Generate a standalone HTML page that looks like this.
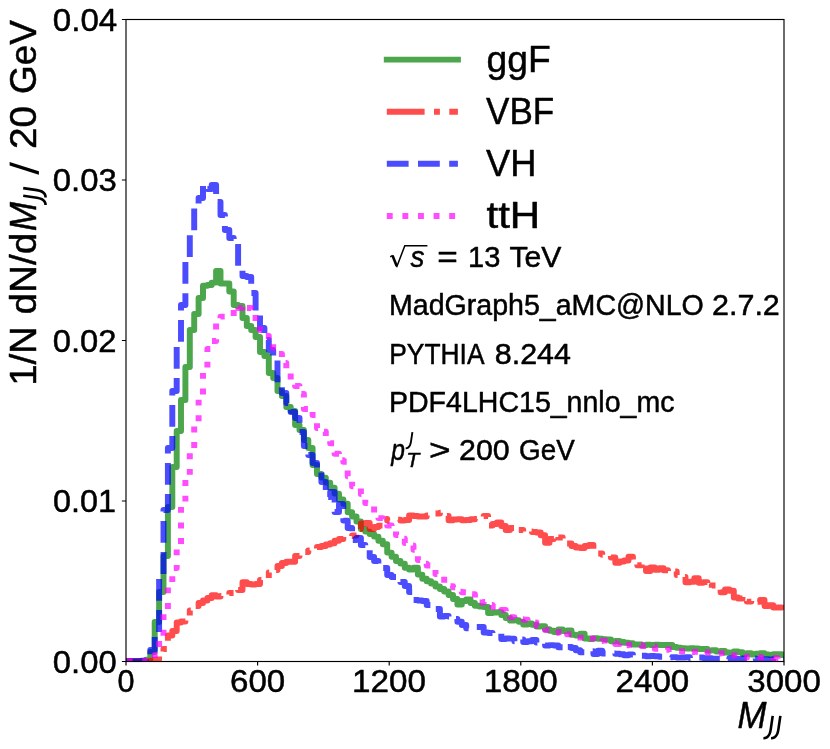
<!DOCTYPE html>
<html>
<head>
<meta charset="utf-8">
<title>MJJ distribution</title>
<style>
html,body{margin:0;padding:0;background:#fff;}
body{width:830px;height:749px;overflow:hidden;font-family:"Liberation Sans",sans-serif;}
svg{display:block;}
</style>
</head>
<body>
<svg width="830" height="749" viewBox="0 0 830 749">
<rect x="0" y="0" width="830" height="749" fill="#ffffff"/>
<defs><clipPath id="ax"><rect x="126.00" y="19.50" width="658.00" height="642.00"/></clipPath></defs>
<g clip-path="url(#ax)" fill="none" stroke-width="5.95" stroke-linejoin="round" stroke-opacity="0.7">
<path d="M126.0 661.2H132.8V661.2H137.2V661.1H141.6V660.9H145.9V659.6H150.3V652.0H154.7V622.0H159.1V592.0H163.5V556.0H167.9V507.0H172.3V467.0H176.7V431.0H181.0V400.0H185.4V367.0H189.8V330.0H194.2V314.0H198.6V298.0H203.0V285.8H207.4V285.0H211.7V282.6H216.1V271.0H220.5V283.5H224.9V283.5H229.3V291.5H233.7V305.0H238.1V306.0H242.5V318.0H246.8V326.0H251.2V330.0H255.6V337.0H260.0V352.0H264.4V356.0H268.8V373.0H273.2V378.0H277.5V391.0H281.9V396.0H286.3V407.0H290.7V411.0H295.1V425.0H299.5V430.0H303.9V440.0H308.3V448.0H312.6V465.0H317.0V474.0H321.4V477.6H325.8V482.6H330.2V487.7H334.6V493.6H339.0V499.5H343.3V503.7H347.7V512.2H352.1V516.4H356.5V521.4H360.9V529.0H365.3V531.6H369.7V534.0H374.1V536.6H378.4V540.8H382.8V544.2H387.2V552.6H391.6V556.8H396.0V561.0H400.4V563.6H404.8V567.8H409.1V569.5H413.5V567.8H417.9V574.6H422.3V578.8H426.7V581.3H431.1V583.5H435.5V586.5H439.9V589.0H444.2V591.5H448.6V595.0H453.0V599.0H457.4V604.5H461.8V601.0H466.2V599.4H470.6V603.0H474.9V605.8H479.3V606.5H483.7V607.0H488.1V613.0H492.5V612.5H496.9V612.2H501.3V615.0H505.7V618.0H510.0V620.5H514.4V620.1H518.8V621.7H523.2V624.4H527.6V623.5H532.0V624.8H536.4V626.6H540.7V626.3H545.1V629.2H549.5V630.7H553.9V631.9H558.3V629.4H562.7V630.9H567.1V630.5H571.5V634.8H575.8V635.4H580.2V633.6H584.6V638.5H589.0V639.0H593.4V638.3H597.8V638.7H602.2V639.1H606.5V639.5H610.9V641.2H615.3V640.9H619.7V641.9H624.1V642.8H628.5V643.2H632.9V644.5H637.3V644.5H641.6V645.3H646.0V644.6H650.4V644.9H654.8V644.6H659.2V644.9H663.6V644.9H668.0V645.0H672.3V646.9H676.7V647.7H681.1V648.1H685.5V648.5H689.9V648.2H694.3V648.4H698.7V649.0H703.1V648.9H707.4V650.6H711.8V650.1H716.2V651.4H720.6V650.9H725.0V652.5H729.4V652.7H733.8V651.4H738.1V652.1H742.5V653.9H746.9V653.3H751.3V654.6H755.7V653.6H760.1V653.1H764.5V654.4H768.9V655.0H773.2V654.2H777.6V654.1H782.0V654.9H786.4V656.4H790.8" stroke="#008000" stroke-linecap="square"/>
<path d="M126.0 661.3H132.8V661.3H137.2V661.3H141.6V661.3H145.9V661.2H150.3V660.8H154.7V659.6H159.1V655.5H163.5V649.0H167.9V635.5H172.3V631.0H176.7V622.4H181.0V621.5H185.4V619.0H189.8V610.5H194.2V606.0H198.6V603.0H203.0V600.5H207.4V598.0H211.7V595.3H216.1V596.4H220.5V596.0H224.9V595.3H229.3V593.0H233.7V589.0H238.1V590.0H242.5V582.3H246.8V584.0H251.2V584.5H255.6V584.0H260.0V580.0H264.4V578.0H268.8V572.5H273.2V570.0H277.5V566.0H281.9V563.0H286.3V561.7H290.7V561.7H295.1V556.0H299.5V554.0H303.9V552.0H308.3V550.5H312.6V548.5H317.0V547.0H321.4V546.0H325.8V544.5H330.2V543.3H334.6V540.8H339.0V539.0H343.3V536.5H347.7V536.0H352.1V535.5H356.5V529.0H360.9V523.5H365.3V523.0H369.7V529.0H374.1V527.0H378.4V525.6H382.8V519.0H387.2V520.6H391.6V520.0H396.0V519.7H400.4V520.6H404.8V520.0H409.1V515.5H413.5V516.0H417.9V516.4H422.3V516.4H426.7V515.5H431.1V514.5H435.5V513.5H439.9V512.8H444.2V516.0H448.6V520.3H453.0V519.5H457.4V519.2H461.8V520.3H466.2V520.0H470.6V519.2H474.9V519.0H479.3V517.0H483.7V516.0H488.1V525.6H492.5V524.0H496.9V522.4H501.3V526.0H505.7V530.0H510.0V528.0H514.4V526.7H518.8V530.0H523.2V532.0H527.6V531.5H532.0V532.0H536.4V532.5H540.7V535.2H545.1V542.7H549.5V539.0H553.9V535.2H558.3V537.5H562.7V540.0H567.1V543.5H571.5V546.0H575.8V547.5H580.2V548.0H584.6V546.0H589.0V544.9H593.4V549.0H597.8V553.4H602.2V554.8H606.5V555.7H610.9V557.5H615.3V562.8H619.7V561.5H624.1V560.5H628.5V556.7H632.9V563.3H637.3V565.3H641.6V562.4H646.0V571.1H650.4V567.4H654.8V569.7H659.2V568.3H663.6V570.2H668.0V572.3H672.3V571.4H676.7V574.9H681.1V576.9H685.5V582.3H689.9V581.7H694.3V578.2H698.7V582.7H703.1V582.1H707.4V587.8H711.8V585.5H716.2V585.5H720.6V592.3H725.0V589.4H729.4V590.8H733.8V597.5H738.1V598.5H742.5V596.4H746.9V601.6H751.3V599.8H755.7V601.7H760.1V600.0H764.5V606.0H768.9V605.2H773.2V607.4H777.6V607.4H782.0V604.1H786.4V605.0H790.8" stroke="#ff0000" stroke-linecap="butt" stroke-dasharray="37.8 9.4 5.9 9.4"/>
<path d="M126.0 661.2H132.8V661.2H137.2V661.1H141.6V660.6H145.9V658.5H150.3V650.0H154.7V632.0H159.1V578.0H163.5V510.0H167.9V448.0H172.3V391.0H176.7V342.0H181.0V305.0H185.4V258.0H189.8V231.0H194.2V207.0H198.6V198.0H203.0V185.0H207.4V189.0H211.7V185.0H216.1V202.0H220.5V215.0H224.9V230.0H229.3V238.0H233.7V241.0H238.1V266.0H242.5V276.0H246.8V277.0H251.2V293.0H255.6V315.0H260.0V328.0H264.4V340.0H268.8V350.0H273.2V357.0H277.5V384.0H281.9V393.0H286.3V403.0H290.7V412.0H295.1V418.0H299.5V432.0H303.9V446.0H308.3V455.0H312.6V463.0H317.0V472.0H321.4V482.0H325.8V497.0H330.2V492.0H334.6V512.0H339.0V504.0H343.3V520.6H347.7V528.0H352.1V540.0H356.5V538.0H360.9V545.0H365.3V549.0H369.7V557.0H374.1V561.0H378.4V564.0H382.8V568.0H387.2V575.0H391.6V577.0H396.0V580.0H400.4V582.0H404.8V586.0H409.1V592.0H413.5V600.0H417.9V600.5H422.3V601.0H426.7V605.0H431.1V607.5H435.5V609.0H439.9V616.5H444.2V616.0H448.6V616.5H453.0V619.0H457.4V621.8H461.8V625.0H466.2V628.2H470.6V627.5H474.9V627.0H479.3V627.0H483.7V632.5H488.1V633.0H492.5V633.5H496.9V633.5H501.3V638.9H505.7V638.4H510.0V638.6H514.4V641.2H518.8V639.5H523.2V641.9H527.6V641.3H532.0V640.0H536.4V642.4H540.7V642.2H545.1V645.5H549.5V645.1H553.9V645.5H558.3V647.2H562.7V649.2H567.1V647.0H571.5V647.9H575.8V650.3H580.2V652.3H584.6V651.5H589.0V651.3H593.4V654.0H597.8V650.6H602.2V653.4H606.5V653.1H610.9V653.4H615.3V653.7H619.7V654.2H624.1V655.2H628.5V654.5H632.9V655.3H637.3V655.7H641.6V655.7H646.0V656.2H650.4V655.9H654.8V656.2H659.2V656.7H663.6V657.5H668.0V657.2H672.3V657.1H676.7V657.6H681.1V657.5H685.5V657.3H689.9V658.1H694.3V658.0H698.7V657.5H703.1V658.1H707.4V658.1H711.8V658.7H716.2V658.6H720.6V658.2H725.0V659.2H729.4V658.2H733.8V658.7H738.1V659.2H742.5V658.4H746.9V658.9H751.3V658.4H755.7V659.3H760.1V659.5H764.5V659.2H768.9V659.7H773.2V659.0H777.6V659.6H782.0V659.5H786.4V659.5H790.8" stroke="#0000ff" stroke-linecap="butt" stroke-dasharray="21.8 9.4"/>
<path d="M126.0 661.2H132.8V661.2H137.2V661.2H141.6V661.1H145.9V660.8H150.3V659.6H154.7V655.0H159.1V640.0H163.5V610.0H167.9V585.0H172.3V568.0H176.7V545.0H181.0V505.0H185.4V478.0H189.8V450.0H194.2V423.0H198.6V396.0H203.0V369.0H207.4V349.0H211.7V341.0H216.1V323.0H220.5V316.6H224.9V316.4H229.3V316.0H233.7V306.0H238.1V308.0H242.5V305.0H246.8V308.0H251.2V315.0H255.6V322.0H260.0V330.0H264.4V336.0H268.8V342.0H273.2V348.0H277.5V354.0H281.9V363.0H286.3V372.0H290.7V380.0H295.1V386.0H299.5V394.0H303.9V409.0H308.3V408.0H312.6V415.0H317.0V428.0H321.4V431.8H325.8V437.0H330.2V443.2H334.6V453.8H339.0V460.3H343.3V461.8H347.7V476.2H352.1V486.3H356.5V487.0H360.9V493.9H365.3V503.1H369.7V504.5H374.1V512.5H378.4V518.1H382.8V524.0H387.2V525.4H391.6V530.3H396.0V535.0H400.4V538.7H404.8V543.0H409.1V545.5H413.5V549.8H417.9V559.9H422.3V563.8H426.7V565.4H431.1V567.1H435.5V574.0H439.9V576.6H444.2V583.1H448.6V586.1H453.0V587.3H457.4V591.7H461.8V592.2H466.2V594.9H470.6V594.2H474.9V598.8H479.3V602.4H483.7V602.0H488.1V604.9H492.5V607.0H496.9V610.7H501.3V610.0H505.7V616.1H510.0V617.3H514.4V618.9H518.8V619.2H523.2V619.8H527.6V621.7H532.0V622.5H536.4V625.7H540.7V627.2H545.1V630.0H549.5V630.9H553.9V632.7H558.3V632.0H562.7V630.2H567.1V634.2H571.5V636.3H575.8V637.6H580.2V637.6H584.6V639.6H589.0V638.4H593.4V641.5H597.8V640.9H602.2V640.6H606.5V640.6H610.9V642.6H615.3V643.9H619.7V643.2H624.1V645.3H628.5V644.8H632.9V644.5H637.3V645.0H641.6V646.1H646.0V646.6H650.4V646.3H654.8V648.7H659.2V648.5H663.6V649.8H668.0V649.1H672.3V650.3H676.7V651.3H681.1V651.3H685.5V652.9H689.9V651.9H694.3V651.8H698.7V653.2H703.1V652.1H707.4V652.4H711.8V652.8H716.2V653.6H720.6V653.1H725.0V653.3H729.4V655.6H733.8V655.1H738.1V657.0H742.5V657.4H746.9V656.4H751.3V656.5H755.7V656.8H760.1V657.5H764.5V657.9H768.9V657.9H773.2V658.0H777.6V658.7H782.0V657.8H786.4V657.7H790.8" stroke="#ff00ff" stroke-linecap="butt" stroke-dasharray="5.9 9.7" stroke-dashoffset="15"/>
</g>
<rect x="126.00" y="19.50" width="658.00" height="642.00" fill="none" stroke="#000" stroke-width="1.15"/>
<path d="M126.00 661.50v4.1M257.60 661.50v4.1M389.20 661.50v4.1M520.80 661.50v4.1M652.40 661.50v4.1M784.00 661.50v4.1M126.00 661.50h-4.1M126.00 501.00h-4.1M126.00 340.50h-4.1M126.00 180.00h-4.1M126.00 19.50h-4.1" stroke="#000" stroke-width="1.15" fill="none"/>
<g fill="none" stroke-width="5.95" stroke-opacity="0.7">
<path d="M386.8 59.6H457.9" stroke="#008000" stroke-linecap="square"/>
<path d="M386.8 111.7H457.9" stroke="#ff0000" stroke-linecap="butt" stroke-dasharray="37.8 9.4 5.9 9.4"/>
<path d="M386.8 163.8H457.9" stroke="#0000ff" stroke-linecap="butt" stroke-dasharray="21.8 9.4"/>
<path d="M386.8 215.9H457.9" stroke="#ff00ff" stroke-linecap="butt" stroke-dasharray="5.9 9.7"/>
</g>
<path d="M390.2 256.9l2.5-1.5" fill="none" stroke="#000" stroke-width="1.3"/>
<path d="M392.5 255.6l4.2 10.4" fill="none" stroke="#000" stroke-width="2.6"/>
<path d="M396.6 267.2l8.2-21.4H427.4" fill="none" stroke="#000" stroke-width="1.5"/>
<path d="M38.85 174.7V171.3L9.6 162.1V165.5Z" fill="#000"/>
<defs><path id="J" d="M772.7 715.9L770.7 729.6C770.1 733.6 768.9 736.1 766.8 737.4C765.8 738 764.6 738.3 763.4 738.3" fill="none" stroke="#000" stroke-width="2.6"/></defs>
<g id="JJ"><use href="#J"/><use href="#J" x="7.65"/></g>
<use href="#JJ" transform="translate(35.6 230.1) rotate(-90) translate(-738.4 -728.3)"/>
<use href="#J" transform="translate(405.7 432.1) scale(0.72) translate(-763.4 -715.9)"/>
<g font-family="Liberation Sans, sans-serif" fill="#000" stroke="#000" stroke-width="0.5" stroke-linejoin="round" opacity="0.999">
<text x="117.48" y="692.10" font-size="31.4" textLength="17.01" lengthAdjust="spacingAndGlyphs">0</text>
<text x="230.03" y="692.10" font-size="31.4" textLength="55.20" lengthAdjust="spacingAndGlyphs">600</text>
<text x="352.03" y="692.10" font-size="31.4" textLength="74.00" lengthAdjust="spacingAndGlyphs">1200</text>
<text x="483.70" y="692.10" font-size="31.4" textLength="74.07" lengthAdjust="spacingAndGlyphs">1800</text>
<text x="615.50" y="692.10" font-size="31.4" textLength="73.81" lengthAdjust="spacingAndGlyphs">2400</text>
<text x="747.25" y="692.10" font-size="31.4" textLength="73.69" lengthAdjust="spacingAndGlyphs">3000</text>
<text x="52.78" y="672.70" font-size="31.4" textLength="63.93" lengthAdjust="spacingAndGlyphs">0.00</text>
<text x="53.00" y="512.20" font-size="31.4" textLength="63.02" lengthAdjust="spacingAndGlyphs">0.01</text>
<text x="52.76" y="351.70" font-size="31.4" textLength="63.81" lengthAdjust="spacingAndGlyphs">0.02</text>
<text x="52.77" y="191.20" font-size="31.4" textLength="64.02" lengthAdjust="spacingAndGlyphs">0.03</text>
<text x="52.79" y="30.70" font-size="31.4" textLength="64.51" lengthAdjust="spacingAndGlyphs">0.04</text>
<text x="737.57" y="728.30" font-size="37.8" font-style="italic" textLength="29.00" lengthAdjust="spacingAndGlyphs">M</text>
<text transform="translate(35.60 385.87) rotate(-90)" font-size="37.8" textLength="59.70" lengthAdjust="spacingAndGlyphs">1/N</text>
<text transform="translate(35.60 314.50) rotate(-90)" font-size="37.8" textLength="81.80" lengthAdjust="spacingAndGlyphs">dN/d</text>
<text transform="translate(35.60 230.93) rotate(-90)" font-size="37.8" font-style="italic" textLength="28.97" lengthAdjust="spacingAndGlyphs">M</text>
<text transform="translate(35.60 149.01) rotate(-90)" font-size="37.8" textLength="43.01" lengthAdjust="spacingAndGlyphs">20</text>
<text transform="translate(35.60 93.98) rotate(-90)" font-size="37.8" textLength="73.74" lengthAdjust="spacingAndGlyphs">GeV</text>
<text x="486.50" y="71.70" font-size="37.8" textLength="64.21" lengthAdjust="spacingAndGlyphs">ggF</text>
<text x="486.01" y="123.80" font-size="37.8" textLength="68.20" lengthAdjust="spacingAndGlyphs">VBF</text>
<text x="485.99" y="176.00" font-size="37.8" textLength="50.46" lengthAdjust="spacingAndGlyphs">VH</text>
<text x="486.48" y="228.10" font-size="37.8" textLength="53.78" lengthAdjust="spacingAndGlyphs">ttH</text>
<text x="410.48" y="266.90" font-size="28.9" font-style="italic" textLength="13.96" lengthAdjust="spacingAndGlyphs">s</text>
<text x="437.17" y="266.90" font-size="28.9" textLength="20.51" lengthAdjust="spacingAndGlyphs">=</text>
<text x="468.04" y="266.90" font-size="28.9" textLength="32.33" lengthAdjust="spacingAndGlyphs">13</text>
<text x="509.53" y="266.90" font-size="28.9" textLength="51.98" lengthAdjust="spacingAndGlyphs">TeV</text>
<text x="389.00" y="315.20" font-size="28.9" textLength="314.76" lengthAdjust="spacingAndGlyphs">MadGraph5_aMC@NLO</text>
<text x="712.01" y="315.20" font-size="28.9" textLength="67.82" lengthAdjust="spacingAndGlyphs">2.7.2</text>
<text x="389.27" y="363.70" font-size="28.9" textLength="95.22" lengthAdjust="spacingAndGlyphs">PYTHIA</text>
<text x="494.78" y="363.70" font-size="28.9" textLength="76.23" lengthAdjust="spacingAndGlyphs">8.244</text>
<text x="388.99" y="412.00" font-size="28.9" textLength="285.51" lengthAdjust="spacingAndGlyphs">PDF4LHC15_nnlo_mc</text>
<text x="391.22" y="460.10" font-size="28.9" font-style="italic" textLength="13.68" lengthAdjust="spacingAndGlyphs">p</text>
<text x="406.34" y="467.30" font-size="21.0" font-style="italic" textLength="13.12" lengthAdjust="spacingAndGlyphs">T</text>
<text x="428.93" y="460.10" font-size="28.9" textLength="21.56" lengthAdjust="spacingAndGlyphs">&gt;</text>
<text x="459.00" y="460.10" font-size="28.9" textLength="50.69" lengthAdjust="spacingAndGlyphs">200</text>
<text x="519.02" y="460.10" font-size="28.9" textLength="55.74" lengthAdjust="spacingAndGlyphs">GeV</text>
</g>
</svg>
</body>
</html>
